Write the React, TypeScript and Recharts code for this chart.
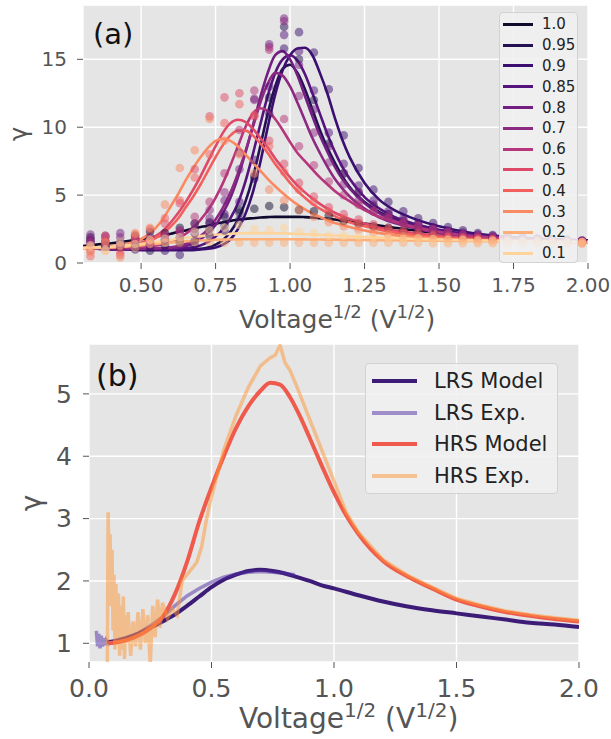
import { ComposedChart, Line, Scatter, XAxis, YAxis, CartesianGrid } from 'recharts';

const FONT = '"DejaVu Sans", sans-serif';
const PANEL_BG = '#e5e5e5';
const TICK_COLOR = '#555555';

// ---- panel (a): fitted curves, sampled on a shared voltage grid ----
const FIT_X = [
  0.305, 0.35, 0.4, 0.45, 0.5, 0.55,
  0.575, 0.6, 0.625, 0.65, 0.675, 0.7, 0.725, 0.75, 0.775,
  0.8, 0.825, 0.85, 0.875, 0.9, 0.925, 0.95, 0.975, 1.0,
  1.025, 1.05, 1.075, 1.1, 1.125, 1.15, 1.175, 1.2,
  1.25, 1.3, 1.35, 1.4,
  1.5, 1.6, 1.7, 1.8, 1.9, 2.0,
];

const FIT_10 = [
  1.25, 1.35, 1.45, 1.6, 1.75, 1.95,
  2.05, 2.15, 2.3, 2.4, 2.55, 2.65, 2.75, 2.9, 3.0,
  3.1, 3.18, 3.25, 3.3, 3.35, 3.38, 3.4, 3.4, 3.4,
  3.4, 3.38, 3.35, 3.3, 3.25, 3.2, 3.12, 3.05,
  2.9, 2.75, 2.6, 2.45,
  2.2, 2.0, 1.85, 1.75, 1.68, 1.62,
];
const FIT_095 = [
  1.15, 1.1, 1.05, 1.05, 1.0, 1.0,
  1.0, 1.0, 1.0, 1.0, 1.0, 1.05, 1.15, 1.35, 1.7,
  2.3, 3.2, 4.5, 6.3, 8.6, 11.0, 13.0, 14.3, 14.6,
  14.0, 12.8, 11.3, 9.8, 8.5, 7.4, 6.4, 5.6,
  4.5, 3.75, 3.25, 2.9,
  2.35, 2.05, 1.85, 1.75, 1.68, 1.6,
];
const FIT_09 = [
  1.1, 1.05, 1.0, 1.0, 0.95, 0.95,
  0.95, 0.95, 0.95, 0.95, 0.95, 1.0, 1.05, 1.15, 1.35,
  1.75, 2.5, 3.6, 5.2, 7.4, 10.0, 12.4, 14.2, 15.3,
  15.8, 15.85, 15.3, 14.0, 12.5, 10.7, 9.1, 7.8,
  5.9, 4.65, 3.9, 3.4,
  2.7, 2.25, 1.98, 1.82, 1.72, 1.65,
];
const FIT_085 = [
  1.1, 1.05, 1.0, 1.0, 1.0, 1.0,
  1.0, 1.0, 1.05, 1.1, 1.15, 1.3, 1.55, 1.95, 2.5,
  3.3, 4.4, 6.0, 8.0, 10.2, 12.3, 14.0, 15.0, 15.3,
  14.9, 13.9, 12.5, 11.0, 9.5, 8.2, 7.1, 6.2,
  4.85, 4.0, 3.4, 3.0,
  2.45, 2.12, 1.92, 1.8, 1.72, 1.65,
];
const FIT_08 = [
  1.15, 1.1, 1.05, 1.05, 1.05, 1.05,
  1.05, 1.1, 1.15, 1.25, 1.45, 1.75, 2.2, 2.8, 3.7,
  4.8, 6.3, 8.1, 10.1, 12.2, 14.0, 15.3, 15.6, 15.0,
  13.8, 12.3, 10.8, 9.4, 8.2, 7.1, 6.2, 5.5,
  4.4, 3.65, 3.15, 2.8,
  2.3, 2.02, 1.85, 1.75, 1.68, 1.62,
];
const FIT_07 = [
  1.15, 1.1, 1.1, 1.05, 1.05, 1.1,
  1.1, 1.15, 1.25, 1.4, 1.65, 2.0, 2.5, 3.2, 4.1,
  5.2, 6.6, 8.2, 10.0, 11.8, 13.2, 14.0, 13.8, 13.0,
  11.8, 10.5, 9.2, 8.1, 7.1, 6.2, 5.5, 4.9,
  4.0, 3.35, 2.95, 2.65,
  2.2, 1.95, 1.8, 1.72, 1.66, 1.6,
];
const FIT_06 = [
  1.15, 1.15, 1.15, 1.15, 1.2, 1.3,
  1.4, 1.55, 1.8, 2.15, 2.6, 3.2, 3.9, 4.8, 5.9,
  7.2, 8.6, 10.0, 11.0, 11.4, 11.2, 10.6, 9.8, 8.9,
  8.1, 7.5, 6.9, 6.3, 5.8, 5.3, 4.9, 4.55,
  3.9, 3.4, 3.05, 2.75,
  2.3, 2.0, 1.85, 1.74, 1.67, 1.6,
];
const FIT_05 = [
  1.15, 1.15, 1.2, 1.3, 1.5, 2.0,
  2.4, 3.0, 3.7, 4.5, 5.4, 6.4, 7.5, 8.6, 9.6,
  10.3, 10.55, 10.4, 9.9, 9.2, 8.5, 7.7, 7.0, 6.3,
  5.7, 5.2, 4.75, 4.35, 4.0, 3.7, 3.45, 3.25,
  2.9, 2.6, 2.4, 2.25,
  2.0, 1.82, 1.72, 1.65, 1.6, 1.56,
];
const FIT_04 = [
  1.1, 1.1, 1.15, 1.25, 1.45, 1.85,
  2.2, 2.7, 3.3, 4.1, 4.9, 5.8, 6.8, 7.8, 8.7,
  9.4, 9.75, 9.75, 9.4, 8.8, 8.1, 7.3, 6.6, 5.9,
  5.3, 4.8, 4.35, 4.0, 3.7, 3.45, 3.2, 3.0,
  2.7, 2.45, 2.25, 2.1,
  1.9, 1.75, 1.66, 1.6, 1.56, 1.52,
];
const FIT_03 = [
  1.1, 1.15, 1.25, 1.4, 1.75, 2.6,
  3.3, 4.2, 5.1, 6.1, 7.0, 7.8, 8.5, 9.0, 9.15,
  9.0, 8.6, 8.0, 7.4, 6.8, 6.2, 5.65, 5.15, 4.7,
  4.3, 3.95, 3.65, 3.4, 3.15, 2.95, 2.8, 2.65,
  2.4, 2.2, 2.05, 1.95,
  1.8, 1.7, 1.63, 1.58, 1.54, 1.5,
];
const FIT_02 = [
  1.05, 1.1, 1.15, 1.2, 1.3, 1.4,
  1.45, 1.5, 1.55, 1.6, 1.63, 1.66, 1.68, 1.7, 1.72,
  1.73, 1.74, 1.75, 1.75, 1.75, 1.75, 1.75, 1.75, 1.75,
  1.74, 1.74, 1.73, 1.73, 1.72, 1.72, 1.71, 1.7,
  1.69, 1.68, 1.67, 1.66,
  1.64, 1.62, 1.6, 1.58, 1.56, 1.55,
];
const FIT_01 = [
  1.1, 1.15, 1.2, 1.3, 1.4, 1.55,
  1.62, 1.7, 1.78, 1.85, 1.92, 1.98, 2.03, 2.08, 2.12,
  2.15, 2.18, 2.2, 2.2, 2.2, 2.2, 2.2, 2.18, 2.16,
  2.14, 2.12, 2.1, 2.07, 2.04, 2.02, 1.99, 1.96,
  1.91, 1.87, 1.83, 1.79,
  1.73, 1.68, 1.64, 1.6, 1.57, 1.55,
];

// ---- panel (a): measured points ----
const DOT_X = [
  0.33, 0.38, 0.43, 0.48, 0.53, 0.58, 0.63, 0.68, 0.73, 0.78,
  0.83, 0.88, 0.93, 0.98, 1.03, 1.08, 1.13, 1.18, 1.23, 1.28,
  1.33, 1.38, 1.43, 1.48, 1.53, 1.58, 1.63, 1.68, 1.73, 1.78,
  1.83, 1.88, 1.93, 1.98,
];

const DOT_10 = [
  1.9, 1.6, 1.5, 2.0, 2.3, 2.2, 2.6, 2.9, 3.0, 3.4,
  3.9, 4.0, 4.2, 4.1, 3.9, 3.8, 3.5, 3.1, 2.9, 2.7,
  2.6, 2.4, 2.3, 2.2, 2.1, 2.0, 1.9, 1.85, 1.8, 1.75,
  1.7, 1.7, 1.65, 1.6,
];
const DOT_095 = [
  1.7, 1.3, 1.1, 1.2, 0.9, 1.3, 1.5, 1.6, 2.5, 2.8,
  3.7, 6.4, 12.2, 17.4, 15.0, 12.0, 8.8, 6.6, 5.2, 4.2,
  3.6, 3.1, 2.8, 2.5, 2.3, 2.1, 2.0, 1.9, 1.85, 1.8,
  1.75, 1.7, 1.65, 1.6,
];
const DOT_09 = [
  1.5, 1.2, 1.4, 1.0, 1.3, 0.9, 0.6, 1.3, 2.0, 2.4,
  3.2, 6.2, 11.0, 15.8, 17.0, 15.5, 12.8, 9.4, 7.0, 5.4,
  4.5, 3.8, 3.3, 2.95, 2.65, 2.4, 2.2, 2.05, 1.95, 1.88,
  1.8, 1.75, 1.7, 1.65,
];
const DOT_085 = [
  1.6, 2.0, 1.4, 1.8, 1.3, 1.7, 1.9, 2.2, 2.9, 3.6,
  4.5, 7.6, 13.0, 16.8, 15.6, 12.7, 9.6, 7.3, 5.7, 4.6,
  3.8, 3.3, 2.95, 2.65, 2.4, 2.25, 2.1, 2.0, 1.9, 1.85,
  1.8, 1.75, 1.7, 1.65,
];
const DOT_08 = [
  2.1, 1.5, 2.2, 1.4, 1.9, 1.8, 2.3, 2.5, 3.3, 4.6,
  6.9, 12.1, 16.1, 18.0, 14.6, 11.3, 8.6, 6.6, 5.2, 4.3,
  3.6, 3.1, 2.8, 2.5, 2.3, 2.15, 2.0, 1.9, 1.85, 1.8,
  1.75, 1.7, 1.65, 1.6,
];
const DOT_07 = [
  1.8, 1.2, 1.9, 1.6, 1.4, 2.1, 2.4, 2.9, 3.9, 5.2,
  8.1, 12.0, 15.9, 17.8, 12.3, 9.6, 7.4, 5.8, 4.6, 3.8,
  3.3, 2.9, 2.65, 2.4, 2.2, 2.05, 1.95, 1.87, 1.8, 1.75,
  1.72, 1.68, 1.65, 1.6,
];
const DOT_06 = [
  1.5, 1.9, 1.3, 1.7, 1.5, 2.0, 2.3, 3.4, 4.5, 6.6,
  9.8, 12.7, 15.7, 10.6, 8.6, 7.2, 6.0, 5.0, 4.3, 3.8,
  3.4, 3.0, 2.75, 2.5, 2.3, 2.1, 2.0, 1.9, 1.82, 1.77,
  1.72, 1.67, 1.63, 1.6,
];
const DOT_05 = [
  0.9, 2.0, 0.6, 1.8, 2.5, 2.9, 4.4, 6.9, 10.8, 12.2,
  12.5, 10.8, 9.0, 7.3, 5.9, 4.9, 4.1, 3.6, 3.2, 2.85,
  2.6, 2.4, 2.25, 2.1, 2.0, 1.9, 1.83, 1.77, 1.72, 1.68,
  1.65, 1.62, 1.59, 1.56,
];
const DOT_04 = [
  0.5, 1.6, 0.8, 2.1, 1.7, 3.3, 4.6, 6.3, 8.0, 10.3,
  11.7, 10.9, 8.6, 6.7, 5.4, 4.5, 3.8, 3.3, 2.9, 2.65,
  2.45, 2.25, 2.1, 2.0, 1.9, 1.82, 1.76, 1.7, 1.66, 1.63,
  1.6, 1.58, 1.55, 1.52,
];
const DOT_03 = [
  0.8, 1.5, 0.4, 2.2, 2.6, 4.3, 7.0, 8.3, 10.6, 9.0,
  8.0, 6.6, 5.4, 4.6, 3.9, 3.4, 3.0, 2.7, 2.45, 2.25,
  2.1, 1.98, 1.88, 1.8, 1.74, 1.69, 1.65, 1.62, 1.6, 1.57,
  1.55, 1.53, 1.51, 1.5,
];
const DOT_02 = [
  1.2, 0.9, 1.3, 1.1, 1.4, 1.5, 1.5, 1.55, 1.55, 1.5,
  1.5, 1.5, 1.5, 1.5, 1.5, 1.5, 1.5, 1.5, 1.5, 1.5,
  1.5, 1.5, 1.5, 1.45, 1.45, 1.45, 1.45, 1.45, 1.45, 1.45,
  1.45, 1.4, 1.4, 1.4,
];
const DOT_01 = [
  1.3, 1.0, 1.5, 1.4, 1.7, 1.8, 1.9, 2.3, 2.4, 2.6,
  2.8, 2.5, 2.4, 2.6, 2.3, 2.2, 2.0, 2.0, 1.95, 1.9,
  1.85, 1.8, 1.8, 1.75, 1.7, 1.7, 1.65, 1.65, 1.6, 1.6,
  1.6, 1.55, 1.55, 1.55,
];

const SERIES_A = [
  { label: '1.0', color: '#100b2d', fit: FIT_10, dots: DOT_10 },
  { label: '0.95', color: '#231151', fit: FIT_095, dots: DOT_095 },
  { label: '0.9', color: '#3b0f70', fit: FIT_09, dots: DOT_09 },
  { label: '0.85', color: '#55137d', fit: FIT_085, dots: DOT_085 },
  { label: '0.8', color: '#721f81', fit: FIT_08, dots: DOT_08 },
  { label: '0.7', color: '#8c2981', fit: FIT_07, dots: DOT_07 },
  { label: '0.6', color: '#b5367a', fit: FIT_06, dots: DOT_06 },
  { label: '0.5', color: '#de4968', fit: FIT_05, dots: DOT_05 },
  { label: '0.4', color: '#f1605d', fit: FIT_04, dots: DOT_04 },
  { label: '0.3', color: '#fa8a62', fit: FIT_03, dots: DOT_03 },
  { label: '0.2', color: '#feae76', fit: FIT_02, dots: DOT_02 },
  { label: '0.1', color: '#fed49a', fit: FIT_01, dots: DOT_01 },
];

const A_XTICKS = [0.5, 0.75, 1.0, 1.25, 1.5, 1.75, 2.0];
const A_YTICKS = [0, 5, 10, 15];

// ---- panel (b) ----
const LRS_MODEL_X = [0.075, 0.1, 0.15, 0.2, 0.25, 0.3, 0.35, 0.4, 0.45, 0.5, 0.55, 0.6, 0.65, 0.7, 0.75, 0.8, 0.85, 0.9, 0.95, 1.0, 1.1, 1.2, 1.3, 1.4, 1.5, 1.6, 1.7, 1.8, 1.9, 2.0];
const LRS_MODEL_Y = [1.02, 1.03, 1.08, 1.15, 1.25, 1.35, 1.46, 1.6, 1.75, 1.9, 2.02, 2.1, 2.16, 2.18, 2.16, 2.12, 2.06, 2.0, 1.93, 1.88, 1.77, 1.67, 1.59, 1.53, 1.48, 1.43, 1.38, 1.33, 1.3, 1.26];

const LRS_EXP_X = [0.03, 0.035, 0.04, 0.045, 0.05, 0.055, 0.06, 0.065, 0.07, 0.08, 0.1, 0.12, 0.15, 0.2, 0.25, 0.3, 0.35, 0.4, 0.45, 0.5, 0.55, 0.6, 0.65, 0.7, 0.75, 0.8, 0.84];
const LRS_EXP_Y = [1.2, 0.95, 1.15, 0.92, 1.12, 0.95, 1.08, 0.97, 1.05, 0.99, 1.04, 1.06, 1.09, 1.16, 1.28, 1.42, 1.6, 1.76, 1.88, 1.98, 2.06, 2.11, 2.14, 2.15, 2.14, 2.12, 2.1];

const HRS_MODEL_X = [0.08, 0.12, 0.16, 0.2, 0.25, 0.3, 0.35, 0.4, 0.45, 0.5, 0.55, 0.6, 0.65, 0.7, 0.74, 0.78, 0.82, 0.86, 0.9, 0.95, 1.0, 1.05, 1.1, 1.2, 1.3, 1.4, 1.5, 1.6, 1.7, 1.8, 1.9, 2.0];
const HRS_MODEL_Y = [1.0, 1.02, 1.06, 1.12, 1.24, 1.42, 1.78, 2.3, 2.95, 3.5, 4.0, 4.45, 4.8, 5.05, 5.18, 5.15, 4.95, 4.65, 4.3, 3.85, 3.42, 3.05, 2.75, 2.32, 2.07, 1.88, 1.7, 1.59, 1.5, 1.44, 1.39, 1.35];

const HRS_EXP_X = [
  0.075, 0.078, 0.082, 0.086, 0.09, 0.094, 0.098, 0.102, 0.106, 0.11,
  0.115, 0.12, 0.125, 0.13, 0.135, 0.14, 0.145, 0.15, 0.155, 0.16,
  0.17, 0.18, 0.19, 0.2, 0.21, 0.22, 0.23, 0.24, 0.25, 0.26,
  0.27, 0.28, 0.29, 0.3, 0.32, 0.34, 0.36, 0.38, 0.4, 0.42,
  0.44, 0.46, 0.48, 0.5, 0.55, 0.6, 0.65, 0.7, 0.74, 0.76,
  0.78, 0.8, 0.82, 0.85, 0.9, 0.95, 1.0, 1.05, 1.1, 1.2,
  1.3, 1.4, 1.5, 1.6, 1.7, 1.8, 1.9, 2.0,
];
const HRS_EXP_Y = [
  0.7, 3.1, 2.3, 2.75, 1.6, 2.5, 1.2, 2.1, 0.9, 1.95,
  1.0, 1.8, 0.8, 1.6, 0.9, 1.75, 0.75, 1.45, 1.0, 1.5,
  0.8, 1.35, 0.95, 1.5, 0.9, 1.55, 1.0, 1.45, 0.65, 1.6,
  1.1, 1.7, 1.25, 1.65, 1.4, 1.55, 1.45, 2.0, 2.1, 2.2,
  2.3, 2.55, 3.0, 3.35, 4.1, 4.65, 5.1, 5.45, 5.58, 5.62,
  5.78, 5.5, 5.38, 5.1, 4.6, 4.1, 3.6, 3.1, 2.78, 2.34,
  2.09, 1.9, 1.72, 1.61, 1.52, 1.46, 1.41, 1.37,
];

const SERIES_B = [
  { label: 'LRS Model', color: '#3d1c78', opacity: 1, width: 4, xs: LRS_MODEL_X, ys: LRS_MODEL_Y, curve: 'monotone' },
  { label: 'LRS Exp.', color: '#4f2ba3', opacity: 0.5, width: 3.5, xs: LRS_EXP_X, ys: LRS_EXP_Y, curve: 'linear' },
  { label: 'HRS Model', color: '#ef5a4c', opacity: 1, width: 4, xs: HRS_MODEL_X, ys: HRS_MODEL_Y, curve: 'monotone' },
  { label: 'HRS Exp.', color: '#ff9533', opacity: 0.5, width: 3.5, xs: HRS_EXP_X, ys: HRS_EXP_Y, curve: 'linear' },
];

const B_XTICKS = [0, 0.5, 1.0, 1.5, 2.0];
const B_YTICKS = [1, 2, 3, 4, 5];

function pts(xs: number[], ys: number[]) {
  return xs.map((x, i) => ({ x, y: ys[i] }));
}

function VoltageTitle({ x, y, size }: { x: number; y: number; size: number }) {
  const sup = Math.round(size * 0.7);
  const shift = Math.round(size * 0.4);
  return (
    <text x={x} y={y} fontFamily={FONT} fontSize={size} fill={TICK_COLOR}>
      <tspan>Voltage</tspan>
      <tspan fontSize={sup} dy={-shift}>1/2</tspan>
      <tspan dy={shift}> (V</tspan>
      <tspan fontSize={sup} dy={-shift}>1/2</tspan>
      <tspan dy={shift}>)</tspan>
    </text>
  );
}

export default function App() {
  return (
    <div style={{ position: 'absolute', left: 0, top: 0, width: 611, height: 739, background: '#fff' }}>
      {/* panel (a) */}
      <div style={{ position: 'absolute', left: 0, top: 0 }}>
        <ComposedChart width={611} height={335} margin={{ top: 5, right: 23, bottom: 0, left: 0 }}>
          <CartesianGrid fill={PANEL_BG} stroke="#ffffff" strokeWidth={1.4} />
          <XAxis
            type="number"
            dataKey="x"
            domain={[0.305, 2.0]}
            ticks={A_XTICKS}
            interval={0}
            allowDataOverflow
            height={72}
            axisLine={false}
            tickLine={{ stroke: TICK_COLOR }}
            tickSize={6}
            tickMargin={9}
            tickFormatter={(v: number) => v.toFixed(2)}
            tick={{ fill: TICK_COLOR, fontSize: 20, fontFamily: FONT }}
          />
          <YAxis
            type="number"
            dataKey="y"
            domain={[0, 19]}
            ticks={A_YTICKS}
            interval={0}
            allowDataOverflow
            width={83}
            axisLine={false}
            tickLine={{ stroke: TICK_COLOR }}
            tickSize={6}
            tickMargin={10}
            tick={{ fill: TICK_COLOR, fontSize: 20, fontFamily: FONT }}
          />
          {SERIES_A.map((s) => (
            <Scatter
              key={`dots-${s.label}`}
              data={pts(DOT_X, s.dots)}
              dataKey="y"
              isAnimationActive={false}
              shape={(p: any) => <circle cx={p.cx} cy={p.cy} r={4.3} fill={s.color} fillOpacity={0.5} />}
            />
          ))}
          {SERIES_A.map((s) => (
            <Line
              key={`fit-${s.label}`}
              data={pts(FIT_X, s.fit)}
              dataKey="y"
              type="monotone"
              stroke={s.color}
              strokeWidth={2.6}
              dot={false}
              activeDot={false}
              isAnimationActive={false}
            />
          ))}
        </ComposedChart>
      </div>

      {/* panel (b) */}
      <div style={{ position: 'absolute', left: 0, top: 335 }}>
        <ComposedChart width={611} height={404} margin={{ top: 9, right: 32, bottom: 0, left: 0 }}>
          <CartesianGrid fill={PANEL_BG} stroke="#ffffff" strokeWidth={1.4} />
          <XAxis
            type="number"
            dataKey="x"
            domain={[0, 2.0]}
            ticks={B_XTICKS}
            interval={0}
            allowDataOverflow
            height={77}
            axisLine={false}
            tickLine={{ stroke: TICK_COLOR }}
            tickSize={6}
            tickMargin={11}
            tickFormatter={(v: number) => v.toFixed(1)}
            tick={{ fill: TICK_COLOR, fontSize: 25, fontFamily: FONT }}
          />
          <YAxis
            type="number"
            dataKey="y"
            domain={[0.7, 5.8]}
            ticks={B_YTICKS}
            interval={0}
            allowDataOverflow
            width={89}
            axisLine={false}
            tickLine={{ stroke: TICK_COLOR }}
            tickSize={6}
            tickMargin={11}
            tick={{ fill: TICK_COLOR, fontSize: 25, fontFamily: FONT }}
          />
          {SERIES_B.map((s) => (
            <Line
              key={s.label}
              data={pts(s.xs, s.ys)}
              dataKey="y"
              type={s.curve as any}
              stroke={s.color}
              strokeOpacity={s.opacity}
              strokeWidth={s.width}
              dot={false}
              activeDot={false}
              isAnimationActive={false}
            />
          ))}
        </ComposedChart>
      </div>

      {/* legend (a) */}
      <div
        style={{
          position: 'absolute', left: 499, top: 12, width: 79, height: 251, boxSizing: 'border-box',
          background: 'rgba(240,240,240,0.88)', border: '1px solid #d2d2d2', borderRadius: 4,
          paddingTop: 1, fontFamily: FONT, fontSize: 15, color: '#222',
        }}
      >
        {SERIES_A.map((s) => (
          <div key={s.label} style={{ height: 20.8, display: 'flex', alignItems: 'center' }}>
            <div style={{ marginLeft: 3, width: 30, height: 3, background: s.color }} />
            <span style={{ marginLeft: 9 }}>{s.label}</span>
          </div>
        ))}
      </div>

      {/* legend (b) */}
      <div
        style={{
          position: 'absolute', left: 365, top: 363, width: 193, height: 131, boxSizing: 'border-box',
          background: 'rgba(240,240,240,0.88)', border: '1px solid #d2d2d2', borderRadius: 4,
          paddingTop: 1, fontFamily: FONT, fontSize: 21, color: '#222',
        }}
      >
        {SERIES_B.map((s) => (
          <div key={s.label} style={{ height: 31.7, display: 'flex', alignItems: 'center' }}>
            <div style={{ marginLeft: 6, width: 45, height: 4, background: s.color, opacity: s.opacity }} />
            <span style={{ marginLeft: 17 }}>{s.label}</span>
          </div>
        ))}
      </div>

      {/* panel letters and axis titles */}
      <svg width={611} height={739} style={{ position: 'absolute', left: 0, top: 0, pointerEvents: 'none' }}>
        <text x={93} y={44} fontFamily={FONT} fontSize={29} fill="#111">(a)</text>
        <text x={96} y={386} fontFamily={FONT} fontSize={30} fill="#111">(b)</text>
        <text x={27} y={134} fontFamily={FONT} fontSize={24} fill={TICK_COLOR} textAnchor="middle" transform="rotate(-90 27 134)">γ</text>
        <text x={41} y={503} fontFamily={FONT} fontSize={28} fill={TICK_COLOR} textAnchor="middle" transform="rotate(-90 41 503)">γ</text>
        <VoltageTitle x={239} y={328} size={25} />
        <VoltageTitle x={239} y={728} size={28} />
      </svg>
    </div>
  );
}
